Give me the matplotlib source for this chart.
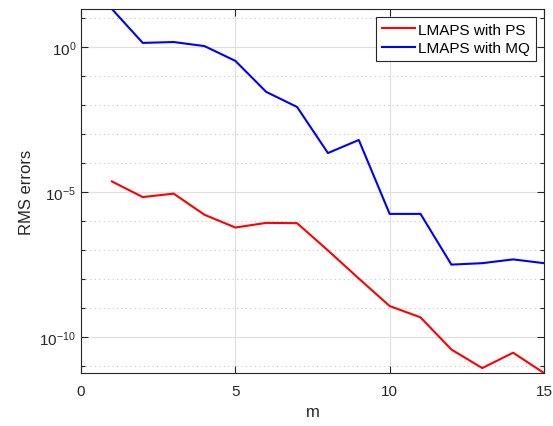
import matplotlib.pyplot as plt
import matplotlib.ticker as mticker
import numpy as np

plt.rcParams['font.family'] = ['Liberation Sans', 'DejaVu Sans']
plt.rcParams['mathtext.fontset'] = 'custom'
plt.rcParams['mathtext.rm'] = 'Liberation Sans'
plt.rcParams['mathtext.default'] = 'regular'

m = np.arange(1, 16)
# values (log10 of the RMS error)
log_ps = [-4.64, -5.18, -5.06, -5.79, -6.23, -6.07, -6.08, -7.02, -7.99,
          -8.94, -9.33, -10.44, -11.08, -10.55, -11.25]
log_mq = [1.31, 0.14, 0.17, 0.03, -0.48, -1.55, -2.07, -3.66, -3.21,
          -5.76, -5.76, -7.51, -7.46, -7.33, -7.46]
rms_ps = 10.0 ** np.array(log_ps)
rms_mq = 10.0 ** np.array(log_mq)

dark = '#262626'

fig = plt.figure(figsize=(5.53, 4.27), dpi=100)
ax = fig.add_axes([0.1465, 0.1241, 0.8372, 0.8525])

ax.plot(m, rms_ps, color='#ff0000', lw=1.5, label='LMAPS with PS')
ax.plot(m, rms_mq, color='#0000ff', lw=1.5, label='LMAPS with MQ')

ax.set_yscale('log')
ax.set_xlim(0, 15)
ax.set_ylim(rms_ps.min(), rms_mq.max())
ax.set_xticks([0, 5, 10, 15])
ax.yaxis.set_major_locator(mticker.FixedLocator([1e-10, 1e-5, 1e0]))
ax.yaxis.set_major_formatter(mticker.FuncFormatter(
    lambda v, _: '10$^{%d}$' % round(np.log10(v))))
ax.yaxis.set_minor_locator(mticker.FixedLocator([10.0 ** k for k in range(-12, 3)]))
ax.yaxis.set_minor_formatter(mticker.NullFormatter())

ax.grid(True, which='major', color='#dfdfdf', lw=0.8, ls='-')
ax.grid(True, which='minor', axis='y', color='#c8c8c8', lw=0.8, ls=(0, (1, 3)))
ax.set_axisbelow(True)

ax.tick_params(which='both', direction='in', top=True, right=True,
               colors=dark, labelsize=11, width=0.8)
ax.tick_params(which='major', length=5)
ax.tick_params(which='minor', length=3)
ax.tick_params(axis='x', pad=8)
for s in ax.spines.values():
    s.set_color(dark)
    s.set_linewidth(0.8)

ax.set_xlabel('m', fontsize=12, color=dark)
ax.set_ylabel('RMS errors', fontsize=12, color=dark)

leg = ax.legend(loc='upper right', fontsize=11, fancybox=False, framealpha=1,
                edgecolor=dark, borderaxespad=0.5, handlelength=2.1,
                handletextpad=0.25, borderpad=0.4, labelspacing=0.3)
leg.get_frame().set_linewidth(0.8)

fig.savefig('out.png', dpi=100)
